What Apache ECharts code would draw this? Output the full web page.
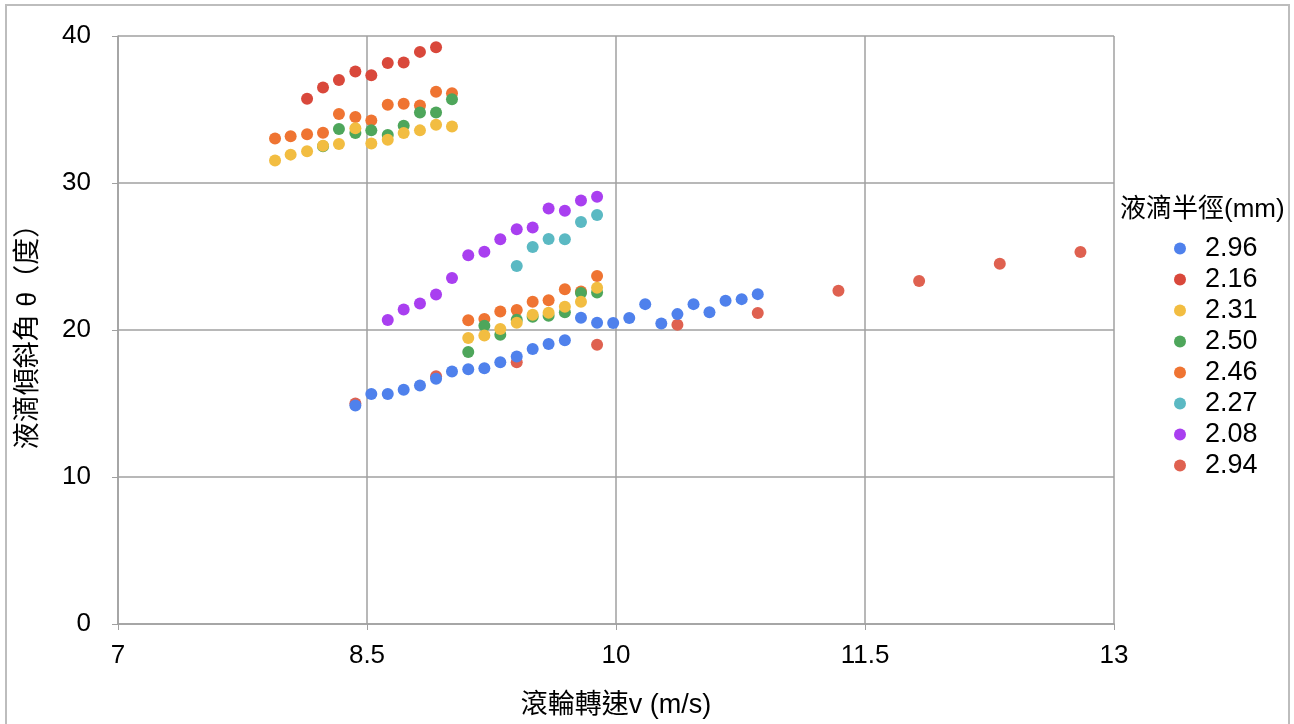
<!DOCTYPE html>
<html lang="zh-Hant">
<head>
    <meta charset="UTF-8">
    <title>液滴傾斜角</title>
    <script type="text/javascript" src="https://cdn.jsdelivr.net/npm/echarts@6/dist/echarts.min.js"></script>
</head>
<body style="margin:0;background:#fff;">
<div id="main" style="width:1294px;height:724px;"></div>
<script type="text/javascript">
    // 各半徑的資料點 [v, θ]
    var names = ['2.96', '2.16', '2.31', '2.50', '2.46', '2.27', '2.08', '2.94'];
    var colors = ['#4f81ec', '#d9483b', '#f2bd41', '#4ea65b', '#ef7432', '#5bb9c3', '#a93ff0', '#df6150'];

    var r296 = [[8.430, 14.87], [8.526, 15.64], [8.625, 15.64], [8.721, 15.93], [8.819, 16.23], [8.916, 16.68],
        [9.012, 17.18], [9.110, 17.33], [9.207, 17.40], [9.303, 17.81], [9.402, 18.19], [9.498, 18.71],
        [9.594, 19.05], [9.692, 19.30], [9.789, 20.84], [9.886, 20.50], [9.983, 20.47], [10.080, 20.81],
        [10.176, 21.76], [10.273, 20.45], [10.370, 21.08], [10.467, 21.76], [10.563, 21.20], [10.660, 21.99],
        [10.757, 22.10], [10.854, 22.44]];
    var r216 = [[8.139, 35.73], [8.235, 36.50], [8.331, 37.00], [8.430, 37.58], [8.526, 37.33], [8.625, 38.17],
        [8.721, 38.19], [8.819, 38.92], [8.916, 39.23]];
    var r231 = [[7.946, 31.53], [8.040, 31.93], [8.139, 32.16], [8.235, 32.54], [8.331, 32.66], [8.430, 33.72],
        [8.526, 32.68], [8.625, 32.95], [8.721, 33.40], [8.819, 33.58], [8.916, 33.97], [9.012, 33.85],
        [9.110, 19.46], [9.207, 19.62], [9.303, 20.07], [9.402, 20.50], [9.498, 21.04], [9.594, 21.18],
        [9.692, 21.58], [9.789, 21.92], [9.886, 22.87]];
    var r250 = [[8.235, 32.50], [8.331, 33.67], [8.430, 33.40], [8.526, 33.58], [8.625, 33.27], [8.721, 33.90],
        [8.819, 34.80], [8.916, 34.80], [9.012, 35.70],
        [9.110, 18.51], [9.207, 20.29], [9.303, 19.68], [9.402, 20.70], [9.498, 20.90], [9.594, 20.97],
        [9.692, 21.20], [9.789, 22.51], [9.886, 22.55]];
    var r246 = [[7.946, 33.02], [8.040, 33.18], [8.139, 33.31], [8.235, 33.42], [8.331, 34.69], [8.430, 34.49],
        [8.526, 34.26], [8.625, 35.32], [8.721, 35.39], [8.819, 35.28], [8.916, 36.20], [9.012, 36.10],
        [9.110, 20.66], [9.207, 20.75], [9.303, 21.26], [9.402, 21.36], [9.498, 21.92], [9.594, 22.03],
        [9.692, 22.78], [9.789, 22.62], [9.886, 23.68]];
    var r227 = [[9.402, 24.36], [9.498, 25.65], [9.594, 26.19], [9.692, 26.17], [9.789, 27.35], [9.886, 27.82]];
    var r208 = [[8.625, 20.68], [8.721, 21.40], [8.819, 21.81], [8.916, 22.42], [9.012, 23.53], [9.110, 25.08],
        [9.207, 25.33], [9.303, 26.17], [9.402, 26.85], [9.498, 26.98], [9.594, 28.27], [9.692, 28.11],
        [9.789, 28.81], [9.886, 29.06]];
    var r294 = [[8.430, 15.00], [8.916, 16.85], [9.402, 17.80], [9.886, 19.00], [10.370, 20.36], [10.854, 21.15],
        [11.340, 22.67], [11.826, 23.34], [12.312, 24.50], [12.798, 25.31]];

    var xTicks = [7, 8.5, 10, 11.5, 13];
    var yTicks = [0, 10, 20, 30, 40];

    var font = 'Liberation Sans, Noto Sans CJK TC, sans-serif';
    var gray = '#a0a0a0';

    var allData = [r296, r216, r231, r250, r246, r227, r208, r294];
    // 2.94 先畫，放在最下層
    var drawOrder = [7, 0, 1, 4, 3, 2, 5, 6];

    var series = drawOrder.map(function (i) {
        return {
            name: names[i],
            type: 'scatter',
            symbolSize: 12,
            data: allData[i],
            itemStyle: {color: colors[i], opacity: 1}
        };
    });

    var myChart = echarts.init(document.getElementById('main'));
    var option = {
        backgroundColor: '#fff',
        animation: false,
        color: colors,
        title: {
            text: '液滴半徑(mm)',
            left: 1115,
            top: 192,
            textStyle: {fontFamily: font, fontSize: 26, fontWeight: 'normal', color: '#000'}
        },
        legend: {
            data: names,
            orient: 'vertical',
            left: 1169,
            top: 230,
            icon: 'circle',
            itemWidth: 12,
            itemHeight: 12,
            itemGap: 4,
            textStyle: {fontFamily: font, fontSize: 27, color: '#000', lineHeight: 26, padding: [0, 0, 0, 14]}
        },
        grid: {left: 118, right: 180, top: 36, bottom: 98, containLabel: false},
        xAxis: {
            type: 'value',
            min: xTicks[0],
            max: xTicks[xTicks.length - 1],
            interval: 1.5,
            name: '滾輪轉速v (m/s)',
            nameLocation: 'middle',
            nameGap: 68,
            nameTextStyle: {fontFamily: font, fontSize: 27, color: '#000'},
            axisLine: {show: true, lineStyle: {color: gray, width: 1.5}},
            axisTick: {show: true, length: 6, lineStyle: {color: gray}},
            axisLabel: {fontFamily: font, fontSize: 26, color: '#000', margin: 19},
            splitLine: {show: true, lineStyle: {color: gray, width: 1.5}}
        },
        yAxis: {
            type: 'value',
            min: yTicks[0],
            max: yTicks[yTicks.length - 1],
            interval: 10,
            name: '液滴傾斜角 θ（度）',
            nameLocation: 'middle',
            nameGap: 76,
            nameTextStyle: {fontFamily: font, fontSize: 27, color: '#000'},
            axisLine: {show: true, lineStyle: {color: gray, width: 1.5}},
            axisTick: {show: true, length: 6, lineStyle: {color: gray}},
            axisLabel: {fontFamily: font, fontSize: 26, color: '#000', margin: 27},
            splitLine: {show: true, lineStyle: {color: gray, width: 1.5}}
        },
        graphic: [{
            type: 'rect',
            shape: {x: 6, y: 5, width: 1283, height: 740},
            style: {fill: 'none', stroke: '#bdbdbd', lineWidth: 2},
            silent: true
        }],
        series: series
    };
    option && myChart.setOption(option);
</script>
</body>
</html>
